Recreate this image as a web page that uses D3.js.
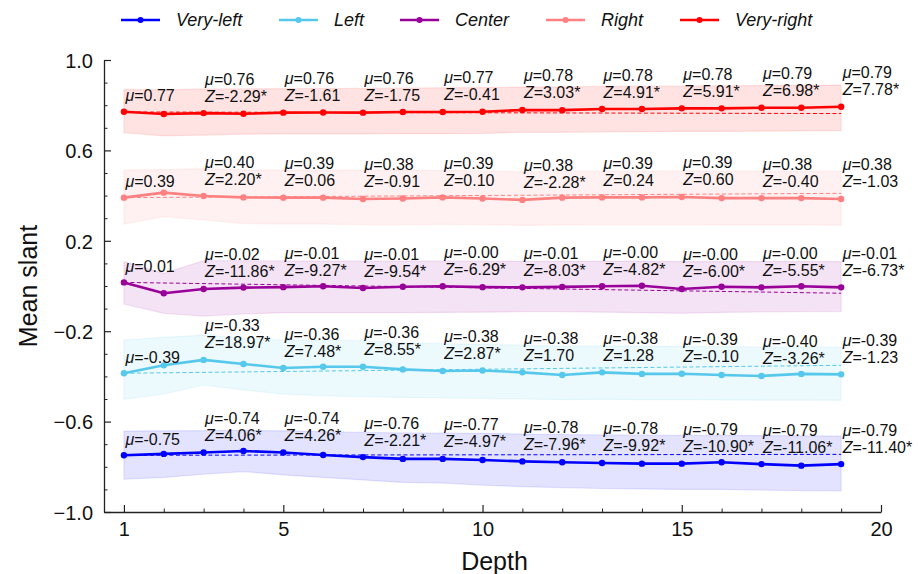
<!DOCTYPE html>
<html>
<head>
<meta charset="utf-8">
<script src="https://cdn.jsdelivr.net/npm/d3@7"></script>
<style>
  body { margin: 0; background: #fff; }
  svg { font-family: "Liberation Sans", Arial, sans-serif; }
  .axis path, .axis line { stroke: #222; }
  .axis text { fill: #111; }
</style>
</head>
<body>
<svg id="chart" width="918" height="574"></svg>
<script>
// depth 1..19
var depths = d3.range(1, 20);
var labelDepths = [1, 3, 5, 7, 9, 11, 13, 15, 17, 19];
var seriesNames = ["Very-left", "Left", "Center", "Right", "Very-right"];
var seriesColors = ["#0000ff", "#55c8ec", "#990099", "#ff8080", "#ff0000"];

// mean slant per depth
var vlMean = [-0.749,-0.743,-0.737,-0.730,-0.737,-0.748,-0.757,-0.765,-0.765,-0.770,-0.776,-0.780,-0.783,-0.786,-0.786,-0.780,-0.788,-0.795,-0.788];
var lMean  = [-0.386,-0.351,-0.327,-0.345,-0.363,-0.357,-0.357,-0.369,-0.376,-0.374,-0.382,-0.394,-0.382,-0.389,-0.388,-0.394,-0.398,-0.389,-0.391];
var cMean  = [0.016,-0.032,-0.013,-0.007,-0.005,-0.001,-0.009,-0.003,-0.001,-0.005,-0.006,-0.004,-0.001,0.001,-0.013,-0.003,-0.006,-0.001,-0.006];
var rMean  = [0.391,0.413,0.398,0.392,0.391,0.391,0.385,0.387,0.392,0.387,0.381,0.391,0.392,0.392,0.394,0.389,0.389,0.389,0.385];
var vrMean = [0.771,0.761,0.765,0.762,0.767,0.768,0.767,0.770,0.770,0.771,0.779,0.778,0.783,0.783,0.786,0.786,0.789,0.789,0.793];

// shaded band, upper and lower edge
var vlUpper = [-0.642,-0.641,-0.640,-0.639,-0.641,-0.645,-0.648,-0.650,-0.651,-0.652,-0.655,-0.657,-0.659,-0.660,-0.661,-0.661,-0.662,-0.663,-0.664];
var vlLower = [-0.855,-0.847,-0.833,-0.821,-0.836,-0.847,-0.858,-0.869,-0.872,-0.881,-0.888,-0.892,-0.896,-0.898,-0.900,-0.900,-0.903,-0.906,-0.907];
var lUpper  = [-0.239,-0.227,-0.217,-0.230,-0.239,-0.240,-0.242,-0.250,-0.255,-0.258,-0.262,-0.266,-0.265,-0.267,-0.267,-0.268,-0.270,-0.270,-0.271];
var lLower  = [-0.501,-0.478,-0.438,-0.460,-0.478,-0.486,-0.490,-0.493,-0.495,-0.497,-0.500,-0.503,-0.502,-0.503,-0.503,-0.504,-0.505,-0.505,-0.506];
var cUpper  = [0.108,0.056,0.112,0.112,0.111,0.111,0.110,0.110,0.110,0.110,0.109,0.109,0.109,0.109,0.108,0.108,0.108,0.108,0.108];
var cLower  = [-0.080,-0.121,-0.133,-0.124,-0.118,-0.118,-0.118,-0.118,-0.117,-0.116,-0.114,-0.114,-0.116,-0.118,-0.121,-0.117,-0.115,-0.114,-0.113];
var rUpper  = [0.513,0.515,0.519,0.514,0.513,0.513,0.512,0.512,0.512,0.510,0.505,0.507,0.508,0.508,0.509,0.508,0.508,0.508,0.507];
var rLower  = [0.274,0.307,0.292,0.276,0.274,0.274,0.272,0.272,0.273,0.272,0.268,0.270,0.271,0.271,0.271,0.270,0.270,0.270,0.269];
var vrUpper = [0.870,0.868,0.872,0.872,0.873,0.874,0.875,0.876,0.877,0.878,0.880,0.881,0.883,0.884,0.885,0.886,0.887,0.888,0.889];
var vrLower = [0.678,0.664,0.668,0.672,0.673,0.673,0.673,0.674,0.674,0.675,0.680,0.680,0.682,0.683,0.684,0.684,0.685,0.686,0.687];

// dashed reference line, value at depth 1 and depth 19
var vlTrend = [-0.749, -0.745];
var lTrend  = [-0.386, -0.351];
var cTrend  = [0.016, -0.032];
var rTrend  = [0.391, 0.410];
var vrTrend = [0.770, 0.763];

// annotations at labelDepths (no Z at depth 1)
var vlMu = ["-0.75","-0.74","-0.74","-0.76","-0.77","-0.78","-0.78","-0.79","-0.79","-0.79"];
var vlZ  = [null,"4.06*","4.26*","-2.21*","-4.97*","-7.96*","-9.92*","-10.90*","-11.06*","-11.40*"];
var lMu  = ["-0.39","-0.33","-0.36","-0.36","-0.38","-0.38","-0.38","-0.39","-0.40","-0.39"];
var lZ   = [null,"18.97*","7.48*","8.55*","2.87*","1.70","1.28","-0.10","-3.26*","-1.23"];
var cMu  = ["0.01","-0.02","-0.01","-0.01","-0.00","-0.01","-0.00","-0.00","-0.00","-0.01"];
var cZ   = [null,"-11.86*","-9.27*","-9.54*","-6.29*","-8.03*","-4.82*","-6.00*","-5.55*","-6.73*"];
var rMu  = ["0.39","0.40","0.39","0.38","0.39","0.38","0.39","0.39","0.38","0.38"];
var rZ   = [null,"2.20*","0.06","-0.91","0.10","-2.28*","0.24","0.60","-0.40","-1.03"];
var vrMu = ["0.77","0.76","0.76","0.76","0.77","0.78","0.78","0.78","0.79","0.79"];
var vrZ  = [null,"-2.29*","-1.61","-1.75","-0.41","3.03*","4.91*","5.91*","6.98*","7.78*"];

var yMajor = [-1, -0.6, -0.2, 0.2, 0.6, 1];
var xMajor = [1, 5, 10, 15, 20];

var means = [vlMean, lMean, cMean, rMean, vrMean],
    uppers = [vlUpper, lUpper, cUpper, rUpper, vrUpper],
    lowers = [vlLower, lLower, cLower, rLower, vrLower],
    trends = [vlTrend, lTrend, cTrend, rTrend, vrTrend],
    mus = [vlMu, lMu, cMu, rMu, vrMu],
    zs = [vlZ, lZ, cZ, rZ, vrZ];

var series = seriesNames.map(function(name, i) {
  return {
    name: name,
    color: seriesColors[i],
    points: depths.map(function(d, j) {
      return {depth: d, mean: means[i][j], upper: uppers[i][j], lower: lowers[i][j]};
    }),
    trend: trends[i],
    labels: labelDepths.map(function(d, j) {
      return {depth: d, mean: means[i][d - 1], mu: mus[i][j], z: zs[i][j]};
    })
  };
});

var svg = d3.select("svg#chart"),
    margin = {top: 60, right: 37, bottom: 62, left: 104},
    width = +svg.attr("width") - margin.left - margin.right,
    height = +svg.attr("height") - margin.top - margin.bottom,
    g = svg.append("g").attr("transform", "translate(" + margin.left + "," + margin.top + ")");

var x = d3.scaleLinear().domain([0.5, 20]).range([0, width]);
var y = d3.scaleLinear().domain([-1, 1]).range([height, 0]);

var area = d3.area()
    .x(function(d) { return x(d.depth); })
    .y0(function(d) { return y(d.lower); })
    .y1(function(d) { return y(d.upper); });

var line = d3.line()
    .x(function(d) { return x(d.depth); })
    .y(function(d) { return y(d.mean); });

// bands
g.append("g").selectAll("path")
  .data(series)
  .enter().append("path")
    .attr("d", function(d) { return area(d.points); })
    .attr("fill", function(d) { return d.color; })
    .attr("fill-opacity", 0.11)
    .attr("stroke", function(d) { return d.color; })
    .attr("stroke-opacity", 0.1)
    .attr("stroke-width", 1.2);

// dashed reference lines
g.append("g").selectAll("line")
  .data(series)
  .enter().append("line")
    .attr("x1", x(depths[0]))
    .attr("x2", x(depths[depths.length - 1]))
    .attr("y1", function(d) { return y(d.trend[0]); })
    .attr("y2", function(d) { return y(d.trend[1]); })
    .attr("stroke", function(d) { return d.color; })
    .attr("stroke-width", 1)
    .attr("stroke-dasharray", "4,2.5");

// mean lines with markers
var sg = g.append("g").selectAll("g")
  .data(series)
  .enter().append("g");

sg.append("path")
    .attr("d", function(d) { return line(d.points); })
    .attr("fill", "none")
    .attr("stroke", function(d) { return d.color; })
    .attr("stroke-width", 2.6)
    .attr("stroke-linejoin", "round");

sg.selectAll("circle")
  .data(function(d) { return d.points.map(function(p) { return {p: p, color: d.color}; }); })
  .enter().append("circle")
    .attr("cx", function(d) { return x(d.p.depth); })
    .attr("cy", function(d) { return y(d.p.mean); })
    .attr("r", 3.2)
    .attr("fill", function(d) { return d.color; });

// annotations
var ann = g.append("g")
    .attr("font-size", 16)
    .attr("fill", "#111")
  .selectAll("g")
  .data(series)
  .enter().append("g")
  .selectAll("text")
  .data(function(d) { return d.labels; })
  .enter().append("text")
    .attr("x", function(d) { return x(d.depth) + 1.5; })
    .attr("y", function(d) { return y(d.mean) - (d.z ? 28.5 : 10.5); });

ann.append("tspan").attr("font-style", "italic").text("\u03bc");
ann.append("tspan").text(function(d) { return "=" + d.mu; });
ann.filter(function(d) { return d.z; }).append("tspan")
    .attr("x", function(d) { return x(d.depth) + 1.5; })
    .attr("dy", 17)
    .attr("font-style", "italic")
    .text("Z");
ann.filter(function(d) { return d.z; }).append("tspan")
    .text(function(d) { return "=" + d.z; });

// axes (font set after .call, axis resets it)
var yAxis = g.append("g")
    .attr("class", "axis")
    .call(d3.axisLeft(y).tickValues(yMajor).tickFormat(d3.format(".1f"))
      .tickSizeInner(-7).tickSizeOuter(0).tickPadding(11))
    .attr("font-size", 20)
    .attr("font-family", "Liberation Sans, Arial, sans-serif");
yAxis.selectAll("text").attr("dy", "0.36em");
yAxis.select(".domain").attr("stroke-width", 1.3);
yAxis.selectAll(".tick line").attr("stroke-width", 1.2);

g.append("g")
    .attr("class", "axis")
    .call(d3.axisLeft(y).tickValues(d3.range(-10, 11).map(function(v) { return v / 10; })
        .filter(function(v) { return yMajor.indexOf(v) < 0; }))
      .tickFormat("").tickSizeInner(-3.5).tickSizeOuter(0))
    .select(".domain").remove();

var xAxis = g.append("g")
    .attr("class", "axis")
    .attr("transform", "translate(0," + height + ")")
    .call(d3.axisBottom(x).tickValues(xMajor).tickFormat(d3.format("d"))
      .tickSizeInner(-7).tickSizeOuter(0).tickPadding(10))
    .attr("font-size", 20)
    .attr("font-family", "Liberation Sans, Arial, sans-serif");
xAxis.select(".domain").attr("stroke-width", 1.3);
xAxis.selectAll(".tick line").attr("stroke-width", 1.2);

g.append("g")
    .attr("class", "axis")
    .attr("transform", "translate(0," + height + ")")
    .call(d3.axisBottom(x).tickValues(depths.filter(function(v) { return xMajor.indexOf(v) < 0; }))
      .tickFormat("").tickSizeInner(-3.5).tickSizeOuter(0))
    .select(".domain").remove();

// axis titles
svg.append("text")
    .attr("transform", "translate(37," + (margin.top + height / 2) + ") rotate(-90)")
    .attr("text-anchor", "middle")
    .attr("font-size", 25)
    .attr("fill", "#111")
    .text("Mean slant");

svg.append("text")
    .attr("x", margin.left + x(10.3))
    .attr("y", 570)
    .attr("text-anchor", "middle")
    .attr("font-size", 25)
    .attr("fill", "#111")
    .text("Depth");

// legend
var legend = svg.append("g")
    .attr("font-size", 18)
    .attr("font-style", "italic")
  .selectAll("g")
  .data(series)
  .enter().append("g")
    .attr("transform", function(d, i) { return "translate(" + [121, 279, 400, 546, 680][i] + ",20)"; });

legend.append("line")
    .attr("x1", 0).attr("x2", 39)
    .attr("stroke", function(d) { return d.color; })
    .attr("stroke-width", 2.6);
legend.append("circle")
    .attr("cx", 19.5).attr("r", 3)
    .attr("fill", function(d) { return d.color; });
legend.append("text")
    .attr("x", 55)
    .attr("dy", "0.35em")
    .attr("fill", "#111")
    .text(function(d) { return d.name; });
</script>
</body>
</html>
